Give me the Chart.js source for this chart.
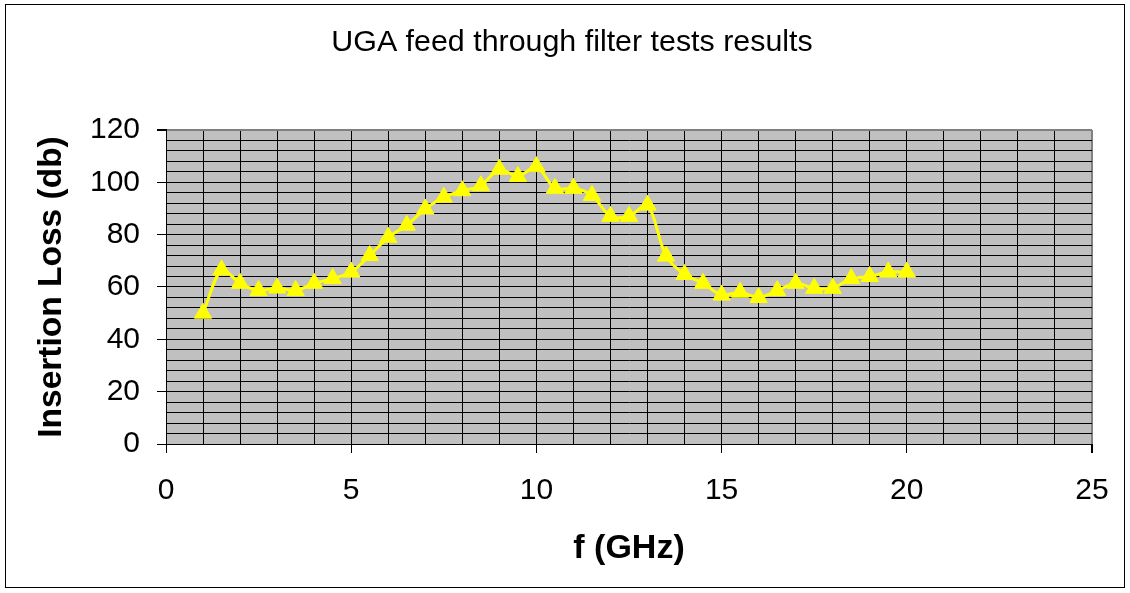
<!DOCTYPE html>
<html>
<head>
<meta charset="utf-8">
<script src="https://cdn.jsdelivr.net/npm/chart.js@4.4.0/dist/chart.umd.min.js"></script>
<style>
  html, body { margin: 0; padding: 0; background: #fff; }
  canvas { display: block; }
</style>
</head>
<body>
<canvas id="chart" width="1130" height="593"></canvas>
<script>
// Frequency points (GHz) and measured insertion loss (dB)
const freqs = [1, 1.5, 2, 2.5, 3, 3.5, 4, 4.5, 5, 5.5, 6, 6.5, 7, 7.5, 8, 8.5, 9, 9.5, 10,
    10.5, 11, 11.5, 12, 12.5, 13, 13.5, 14, 14.5, 15, 15.5, 16, 16.5, 17, 17.5, 18, 18.5, 19, 19.5, 20];
const insertionLoss = [50, 66.5, 61.4, 58.7, 59.6, 58.7, 61.4, 63.2, 65.7, 72, 79, 83.6, 89.8, 94.3, 96.8, 98.7, 105, 102.2, 106,
    97.7, 97.7, 95, 87, 87, 91.3, 71.8, 64.8, 61.4, 56.9, 58, 56, 58.6, 61.4, 59.5, 59.5, 63.2, 64, 65.7, 65.7];

// Axis settings
const xMin = 0, xMax = 25, xGridStep = 1, xLabelStep = 5;
const yMin = 0, yMax = 120, yGridStep = 4, yLabelStep = 20;

const FONT = '"Liberation Sans", Arial, sans-serif';

// grey plot area and the outer frame
const backgroundPlugin = {
    id: 'background',
    beforeDraw(chart) {
        const ctx = chart.ctx;
        const a = chart.chartArea;
        ctx.save();
        ctx.fillStyle = '#fff';
        ctx.fillRect(0, 0, chart.width, chart.height);
        ctx.fillStyle = '#c0c0c0';
        ctx.fillRect(a.left, a.top, a.right - a.left, a.bottom - a.top);
        ctx.strokeStyle = '#000';
        ctx.lineWidth = 1;
        ctx.strokeRect(5.5, 4.5, 1119, 583);
        ctx.restore();
    }
};

const points = freqs.map((f, i) => ({ x: f, y: insertionLoss[i] }));

const ctx = document.getElementById('chart').getContext('2d');
new Chart(ctx, {
    type: 'line',
    data: {
        datasets: [{
            data: points,
            borderColor: '#ffff00',
            backgroundColor: '#ffff00',
            borderWidth: 3,
            tension: 0.3,
            pointStyle: 'triangle',
            pointRadius: 10,
            pointBorderWidth: 1,
            pointBorderColor: '#ffff00',
            pointBackgroundColor: '#ffff00'
        }]
    },
    options: {
        responsive: false,
        devicePixelRatio: 1,
        animation: false,
        layout: {
            // left/right padding also centres the title the way the original sits
            padding: { left: 52, right: 38, top: 0, bottom: 0 }
        },
        plugins: {
            legend: { display: false },
            tooltip: { enabled: false },
            title: {
                display: true,
                text: 'UGA feed through filter tests results',
                color: '#000',
                font: { family: FONT, size: 30.4, weight: 'normal' },
                padding: { top: 24, bottom: 69.5 }
            }
        },
        scales: {
            x: {
                type: 'linear',
                min: xMin,
                max: xMax,
                afterFit(scale) { scale.height = 149; },
                border: { color: '#000', width: 1 },
                grid: {
                    color: c => c.tick && c.tick.value === xMax ? '#808080' : '#000',
                    lineWidth: c => c.tick && c.tick.value === xMax ? 2 : 1,
                    tickColor: c => c.tick && c.tick.value % xLabelStep === 0 ? '#000' : 'rgba(0,0,0,0)',
                    tickLength: 9
                },
                ticks: {
                    stepSize: xGridStep,
                    autoSkip: false,
                    maxRotation: 0,
                    padding: 20,
                    color: '#000',
                    font: { family: FONT, size: 30 },
                    callback: v => v % xLabelStep === 0 ? v : ''
                },
                title: {
                    display: true,
                    text: 'f (GHz)',
                    color: '#000',
                    font: { family: FONT, size: 34, weight: 'bold' },
                    padding: { top: 0, bottom: 24 }
                }
            },
            y: {
                type: 'linear',
                min: yMin,
                max: yMax,
                afterFit(scale) { scale.width = 114; },
                border: { color: '#000', width: 1 },
                grid: {
                    color: c => c.tick && c.tick.value === yMax ? '#808080' : '#000',
                    lineWidth: c => c.tick && c.tick.value === yMax ? 2 : 1,
                    tickColor: c => c.tick && c.tick.value % yLabelStep === 0 ? '#000' : 'rgba(0,0,0,0)',
                    tickLength: 9
                },
                ticks: {
                    stepSize: yGridStep,
                    autoSkip: false,
                    padding: 17,
                    color: '#000',
                    font: { family: FONT, size: 30 },
                    callback: v => v % yLabelStep === 0 ? v : ''
                },
                title: {
                    display: true,
                    text: 'Insertion Loss (db)',
                    color: '#000',
                    font: { family: FONT, size: 33.5, weight: 'bold' },
                    // title centre should land at x=52, i.e. on the scale's left edge
                    padding: { top: -20.1, bottom: 0 }
                }
            }
        }
    },
    plugins: [backgroundPlugin]
});
</script>
</body>
</html>
